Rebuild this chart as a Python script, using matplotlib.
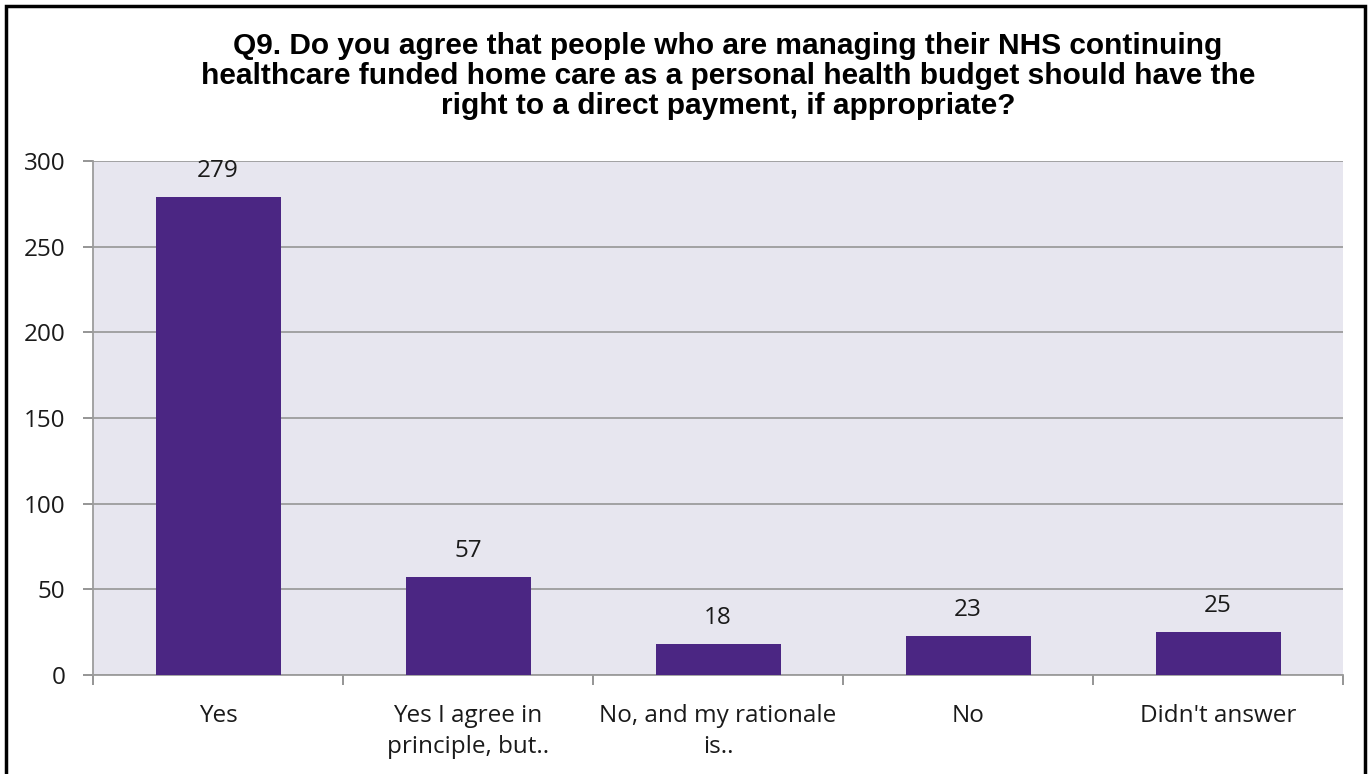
import matplotlib
matplotlib.use("Agg")
import matplotlib.pyplot as plt
from matplotlib.patches import Rectangle

categories = ["Yes", "Yes I agree in\nprinciple, but..", "No, and my rationale\nis..", "No", "Didn't answer"]
responses = [279, 57, 18, 23, 25]
y_ticks = [0, 50, 100, 150, 200, 250, 300]
title = ("Q9. Do you agree that people who are managing their NHS continuing\n"
         "healthcare funded home care as a personal health budget should have the\n"
         "right to a direct payment, if appropriate?")

W, H = 1371, 774
fig = plt.figure(figsize=(W / 100, H / 100), dpi=100)
fig.patch.set_facecolor("white")

ax = fig.add_axes([93 / W, 1 - 675 / H, (1343 - 93) / W, (675 - 161) / H])
ax.set_facecolor("#E7E6EF")

x = range(len(categories))
bars = ax.bar(x, responses, width=0.5, color="#4B2683", zorder=3)

label_font = "Open Sans"
label_size = 17.5
text_color = "#1a1a1a"
for rect, v in zip(bars, responses):
    ax.annotate(str(v), (rect.get_x() + rect.get_width() / 2, v),
                xytext=(0, 10), textcoords="offset points",
                ha="center", va="bottom", fontsize=label_size, family=label_font,
                color=text_color)

ax.set_xlim(-0.5, len(categories) - 0.5)
ax.set_ylim(0, 300)
ax.set_yticks(y_ticks)
ax.set_yticklabels([str(t) for t in y_ticks], fontsize=label_size, family=label_font, color=text_color)
ax.yaxis.grid(True, color="#9C9C9C", linewidth=1.3, zorder=1)
ax.set_axisbelow(True)

ax.set_xticks(list(x))
ax.set_xticklabels(categories, fontsize=label_size, family=label_font, color=text_color, linespacing=1.4)
ax.set_xticks([i - 0.5 for i in range(len(categories) + 1)], minor=True)
ax.tick_params(axis="x", which="major", length=0, pad=21)
ax.tick_params(axis="x", which="minor", length=7, width=1.3, color="#8C8C8C", direction="out")
ax.tick_params(axis="y", length=7, width=1.3, color="#8C8C8C", direction="out", pad=13)

for s in ("top", "right"):
    ax.spines[s].set_visible(False)
for s in ("left", "bottom"):
    ax.spines[s].set_color("#9C9C9C")
    ax.spines[s].set_linewidth(1.3)

fig.text(728 / W, 1 - 32 / H, title, ha="center", va="top", fontsize=21.5,
         fontweight="bold", family="Liberation Sans", linespacing=1.1, color="black")

# outer frame, open at the bottom edge
fig.add_artist(Rectangle((6 / W, -0.05), (1365 - 6) / W, 1.05 - 6 / H,
                         transform=fig.transFigure, fill=False,
                         edgecolor="black", linewidth=2.5, clip_on=False))

fig.savefig("out.png", dpi=100)
